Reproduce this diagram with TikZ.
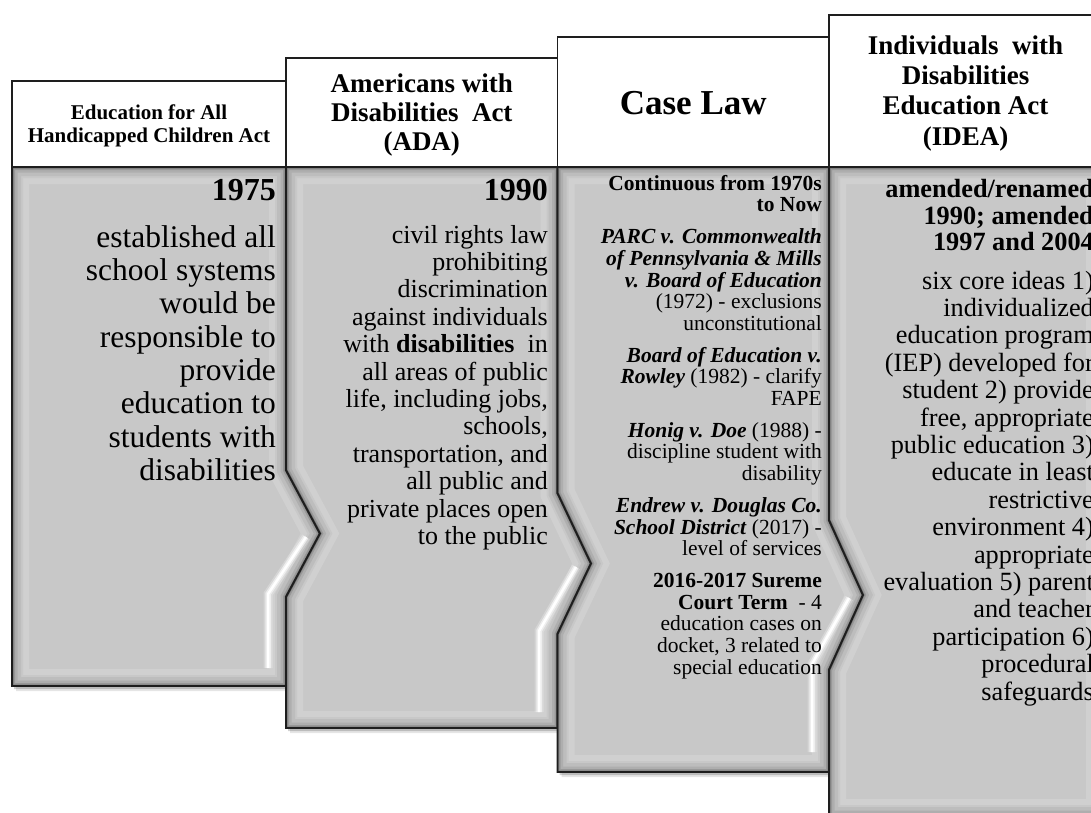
\documentclass[tikz,border=0pt]{standalone}
\usepackage{fontspec}
\setmainfont{Liberation Serif}
\definecolor{bodygray}{RGB}{200,200,200}
\definecolor{edgeink}{RGB}{30,30,30}
\newcommand\fs[2]{\fontsize{#1}{#2}\selectfont}
% a grey bevelled body panel with a soft drop shadow
\newcommand\drawbody[1]{%
  \fill[black,opacity=.10,shift={(4,5)}] #1;
  \fill[black,opacity=.18,shift={(2,3)}] #1;
  \begin{scope}
    \clip #1;
    \fill[bodygray] #1;
    \draw[white,opacity=.16,line width=34] #1;
    \draw[bodygray,line width=22] #1;
    \draw[black,opacity=.05,line width=18] #1;
    \draw[black,opacity=.08,line width=11] #1;
    \draw[black,opacity=.12,line width=6] #1;
    \draw[black,opacity=.22,line width=3] #1;
  \end{scope}}
% glossy highlight running along the lower side of an arrow point
\newcommand\gloss[3]{%
  \draw[white,opacity=.25,line width=9] #1 -- #2 -- #3;
  \draw[white,opacity=.55,line width=5.5] #1 -- #2 -- #3;
  \draw[white,line width=2.5] #1 -- #2 -- #3;}
\begin{document}
\begin{tikzpicture}[x=1pt,y=-1pt,line join=miter,
  header/.style={draw=edgeink,fill=white,line width=1.5},
  edge/.style={draw=edgeink,line width=1.8},
  hdr/.style={align=center,inner sep=0pt,anchor=north,text=black},
  txt/.style={align=right,inner sep=0pt,anchor=north east,text=black}]
\useasboundingbox (0,0) rectangle (1091,812);
\clip (0,0) rectangle (1091,812);

% ---- column 1 ----
\draw[header] (12,81) rectangle (286,167);
\drawbody{(12,167) -- (286,167) -- (286,470) -- (320,533.5) -- (286,597) -- (286,686) -- (12,686) -- cycle}
\gloss{(306,537)}{(268,594)}{(268,668)}
\draw[edge] (12,167) -- (286,167) -- (286,470) -- (320,533.5) -- (286,597) -- (286,686) -- (12,686) -- cycle;
\node[hdr,font=\fs{21}{23}\bfseries] (h1) at (149,102.9) {\strut Education for All\\Handicapped Children Act};
\node[txt,font=\fs{32}{33.3}\bfseries] (y1) at (276,176.7) {\strut 1975};
\node[txt,font=\fs{31.5}{33.3}] (b1) at (276,223.7) {\strut established all\\school systems\\would be\\responsible to\\provide\\education to\\students with\\disabilities};

% ---- column 2 ----
\draw[header] (286,58) rectangle (557.5,167);
\drawbody{(286,167) -- (557.5,167) -- (557.5,493) -- (591,563.5) -- (557.5,634) -- (557.5,728) -- (286,728) -- (286,597) -- (320,533.5) -- (286,470) -- cycle}
\gloss{(576,567)}{(539,631)}{(539,712)}
\draw[edge] (286,167) -- (557.5,167) -- (557.5,493) -- (591,563.5) -- (557.5,634) -- (557.5,728) -- (286,728) -- (286,597) -- (320,533.5) -- (286,470) -- cycle;
\node[hdr,font=\fs{27}{29.2}\bfseries] (h2) at (421.75,71.6) {\strut Americans with\\Disabilities~~Act\\(ADA)};
\node[txt,font=\fs{32}{33.3}\bfseries] (y2) at (548,176.7) {\strut 1990};
\node[txt,font=\fs{26}{27.4}] (b2) at (548,223.8) {\strut civil rights law\\prohibiting\\discrimination\\against individuals\\with \textbf{disabilities} ~in\\all areas of public\\life, including jobs,\\schools,\\transportation, and\\all public and\\private places open\\to the public};

% ---- column 3 ----
\draw[header] (557.5,37) rectangle (829,167);
\drawbody{(557.5,167) -- (829,167) -- (829,520) -- (863,595) -- (829,670) -- (829,772) -- (557.5,772) -- (557.5,634) -- (591,563.5) -- (557.5,493) -- cycle}
\gloss{(849,598)}{(812,664)}{(812,752)}
\draw[edge] (557.5,167) -- (829,167) -- (829,520) -- (863,595) -- (829,670) -- (829,772) -- (557.5,772) -- (557.5,634) -- (591,563.5) -- (557.5,493) -- cycle;
\node[hdr,font=\fs{35}{38}\bfseries] (h3) at (693.25,87.4) {\strut Case Law};
\node[txt,font=\fs{21.5}{21.7}] (b3) at (822,174.8) {\strut\textbf{Continuous from 1970s}\\\textbf{to Now}\\[10pt]
\textbf{\textit{PARC v. Commonwealth}}\\\textbf{\textit{of Pennsylvania \& Mills}}\\\textbf{\textit{v. Board of Education}}\\(1972) - exclusions\\unconstitutional\\[10pt]
\textbf{\textit{Board of Education v.}}\\\textbf{\textit{Rowley}} (1982) - clarify\\FAPE\\[10pt]
\textbf{\textit{Honig v. Doe}} (1988) -\\discipline student with\\disability\\[10pt]
\textbf{\textit{Endrew v. Douglas Co.}}\\\textbf{\textit{School District}} (2017) -\\level of services\\[10pt]
\textbf{2016-2017 Sureme}\\\textbf{Court Term} ~- 4\\education cases on\\docket, 3 related to\\special education};

% ---- column 4 ----
\draw[header] (829,15) rectangle (1103,167);
\drawbody{(829,167) -- (1103,167) -- (1103,816) -- (829,816) -- (829,670) -- (863,595) -- (829,520) -- cycle}
\draw[edge] (829,167) -- (1103,167) -- (1103,816) -- (829,816) -- (829,670) -- (863,595) -- (829,520) -- cycle;
\node[hdr,font=\fs{27}{30.3}\bfseries] (h4) at (965.5,32.8) {\strut Individuals~~with\\Disabilities\\Education Act\\(IDEA)};
\node[txt,font=\fs{26.3}{25.5}\bfseries] (y4) at (1094,179.2) {\strut amended/renamed\\1990; amended\\1997 and 2004};
\node[txt,font=\fs{26.3}{27.4}] (b4) at (1094,269.8) {\strut six core ideas 1)\\individualized\\education program\\(IEP) developed for\\student 2) provide\\free, appropriate\\public education 3)\\educate in least\\restrictive\\environment 4)\\appropriate\\evaluation 5) parent\\and teacher\\participation 6)\\procedural\\safeguards};
\end{tikzpicture}
\end{document}
